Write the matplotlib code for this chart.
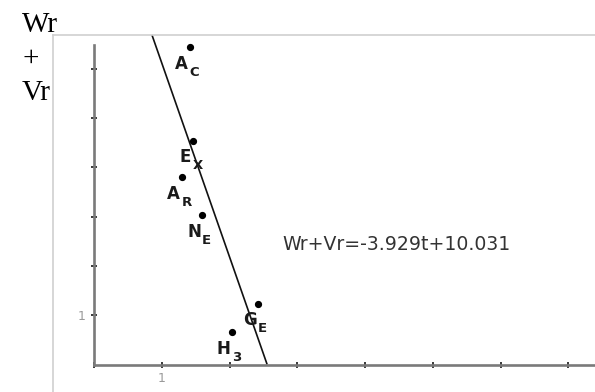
import matplotlib
matplotlib.use("Agg")
import matplotlib.pyplot as plt
from matplotlib.lines import Line2D

# ---- data ----
point_main = ["A", "E", "A", "N", "G", "H"]
point_sub = ["C", "X", "R", "E", "E", "3"]
t_values = [1.41, 1.46, 1.29, 1.59, 2.42, 2.03]
wv_values = [6.44, 4.54, 3.80, 3.03, 1.23, 0.65]
slope = -3.929
intercept = 10.031
equation_label = "Wr+Vr=-3.929t+10.031"
x_ticks = [0, 1, 2, 3, 4, 5, 6, 7]
y_ticks = [1, 2, 3, 4, 5, 6]
tick_label_value = 1
y_axis_lines = ["Wr", "+", "Vr"]

W, H = 595, 392
fig = plt.figure(figsize=(W / 100, H / 100), dpi=100)

x0_px, y0_px = 94.3, 364.5
top_px = 35
ax = fig.add_axes([x0_px / W, (H - y0_px) / H, (W - x0_px) / W, (y0_px - top_px) / H])
xmax = (W - x0_px) / 67.7
ymax = (y0_px - top_px) / 49.3
spine_top = (y0_px - 45) / 49.3
ax.set_xlim(0, xmax)
ax.set_ylim(0, ymax)

for s in ["top", "right"]:
    ax.spines[s].set_visible(False)
for s in ["left", "bottom"]:
    ax.spines[s].set_color("#7a7a7a")
    ax.spines[s].set_linewidth(1.9)
ax.spines["left"].set_bounds(0, spine_top)

ax.set_xticks(x_ticks)
ax.set_yticks(y_ticks)
ax.set_xticklabels([str(v) if v == tick_label_value else "" for v in x_ticks])
ax.set_yticklabels([str(v) if v == tick_label_value else "" for v in y_ticks])
ax.tick_params(axis="both", direction="inout", length=5, width=1.4, color="#3a3a3a",
               labelsize=9, labelcolor="#9a9a9a")
ax.tick_params(axis="y", pad=4)
ax.tick_params(axis="x", pad=3)

# regression line from top of plot down to the x axis
t_start = (ymax - intercept) / slope
t_end = (0 - intercept) / slope
ax.plot([t_start, t_end], [slope * t_start + intercept, slope * t_end + intercept],
        color="#111111", lw=1.2, solid_capstyle="butt", clip_on=False)

ax.plot(t_values, wv_values, "o", color="black", markersize=4.2, clip_on=False)

for m, s, t, v in zip(point_main, point_sub, t_values, wv_values):
    ax.annotate(m, (t, v), xytext=(-8, -21.5), textcoords="offset pixels",
                ha="center", va="baseline", fontsize=12, fontweight="bold",
                color="#1a1a1a", family="DejaVu Sans")
    ax.annotate(s, (t, v), xytext=(0, -28.5), textcoords="offset pixels",
                ha="left", va="baseline", fontsize=9.5, fontweight="bold",
                color="#1a1a1a", family="DejaVu Sans")

ax.text((282 - x0_px) / 67.7, (y0_px - 250) / 49.3, equation_label,
        fontsize=13.6, color="#333333", family="DejaVu Sans", va="baseline", ha="left")

# outer frame lines
fig.add_artist(Line2D([53 / W, 53 / W], [0, 1 - 35 / H], color="#cfcfcf", lw=1.2))
fig.add_artist(Line2D([53 / W, 1], [1 - 35 / H, 1 - 35 / H], color="#cfcfcf", lw=1.2))

# y axis title stacked
for txt, base in zip(y_axis_lines, [32, 66, 100]):
    fig.text(22 / W, 1 - base / H, txt, fontsize=21, family="Liberation Serif",
             va="baseline", ha="left", color="black")

fig.savefig("out.png", dpi=100)
